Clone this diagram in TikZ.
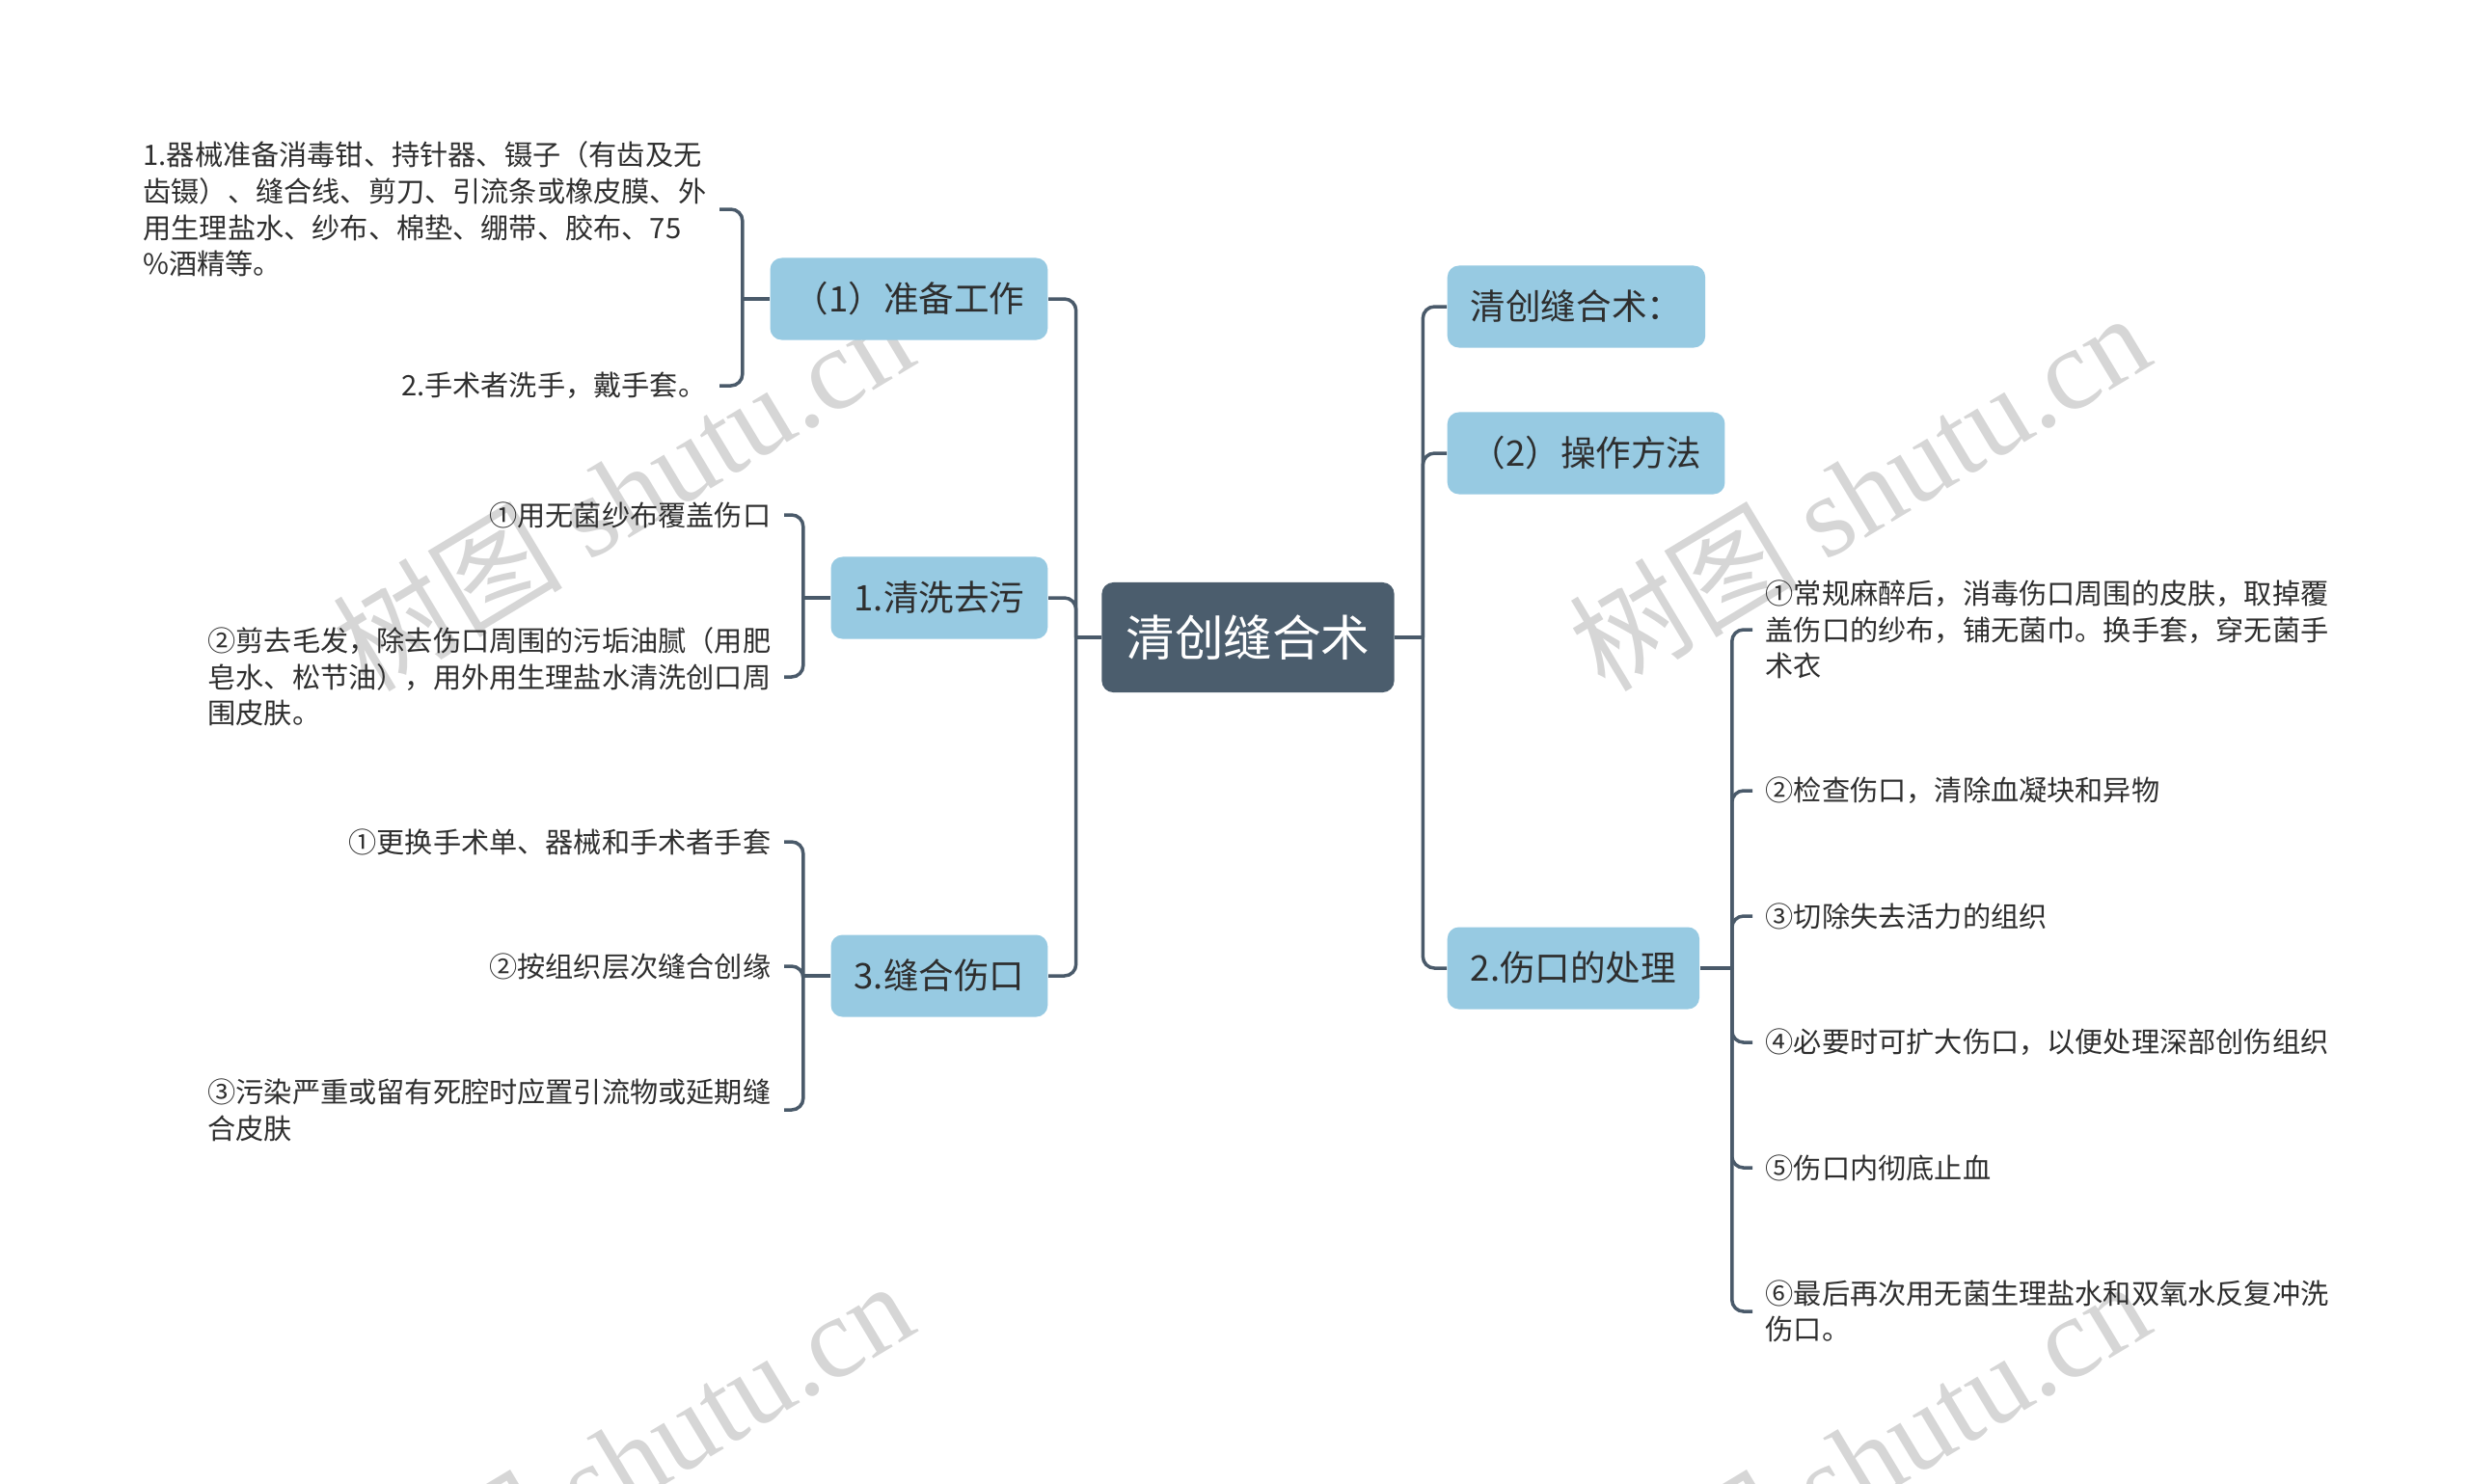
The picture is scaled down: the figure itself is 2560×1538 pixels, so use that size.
\documentclass[tikz,border=0pt]{standalone}
\usepackage{fontspec}
\setmainfont{Noto Sans CJK SC}
\newfontfamily\wmfont{Liberation Serif}
\newfontfamily\wmcjk{Noto Sans CJK SC}
\usetikzlibrary{positioning}
\definecolor{linkcol}{HTML}{4A5A6A}
\definecolor{rootcol}{HTML}{4B5D6D}
\definecolor{topiccol}{HTML}{97CAE2}
\definecolor{textcol}{HTML}{2E2E2E}
\definecolor{wmcol}{HTML}{D6D6D6}

\begin{document}
\begin{tikzpicture}[x=0.01cm,y=-0.01cm,
  root/.style={fill=rootcol,text=white,rounded corners=0.12cm,font=\fontsize{14.4}{17}\selectfont,inner xsep=0.25cm,minimum height=1.14cm},
  topic/.style={fill=topiccol,text=textcol,rounded corners=0.12cm,font=\fontsize{10.4}{13}\selectfont,inner xsep=0.24cm,minimum height=0.85cm},
  leaf/.style={text=textcol,align=left,font=\fontsize{8.3}{10.7}\selectfont,inner sep=0.13cm},
  link/.style={draw=linkcol,line width=0.035cm,rounded corners=0.12cm},
  wmark/.style={text=wmcol,rotate=31,font=\fontsize{34}{34}\selectfont}]
\useasboundingbox (0,0) rectangle (2560,1538);
\begin{scope}
\clip (0,0) rectangle (2560,1538);
\node[wmark] (wm1) at (645,509) {\wmcjk 树图 \wmfont shutu.cn};
\node[wmark] (wm2) at (1927,509) {\wmcjk 树图 \wmfont shutu.cn};
\node[wmark] (wm3) at (645,1513) {\wmcjk 树图 \wmfont shutu.cn};
\node[wmark] (wm4) at (1927,1513) {\wmcjk 树图 \wmfont shutu.cn};
\end{scope}

\node[root] (root) at (1294,661) {清创缝合术};
\node[topic,anchor=east] (prep) at (1087,310) {（1）准备工作};
\node[topic,anchor=east] (wash) at (1087,620) {1.清洗去污};
\node[topic,anchor=east] (suture) at (1087,1012) {3.缝合伤口};
\node[topic,anchor=west] (defn) at (1500,318) {清创缝合术：};
\node[topic,anchor=west] (method) at (1500,470) {（2）操作方法};
\node[topic,anchor=west] (treat) at (1500,1004) {2.伤口的处理};

\node[leaf,anchor=east] (prep1) at (746,217) {1.器械准备消毒钳、持针器、镊子（有齿及无\\齿镊）、缝合线、剪刀、引流条或橡皮膜、外\\用生理盐水、纱布、棉垫、绷带、胶布、75\\\%酒精等。};
\node[leaf,anchor=east] (prep2) at (746,400) {2.手术者洗手，戴手套。};
\node[leaf,anchor=east] (wash1) at (813,534) {①用无菌纱布覆盖伤口};
\node[leaf,anchor=east] (wash2) at (813,702) {②剪去毛发，除去伤口周围的污垢油腻（用肥\\皂水、松节油），用外用生理盐水清洗创口周\\围皮肤。};
\node[leaf,anchor=east] (sut1) at (813,873) {①更换手术单、器械和手术者手套};
\node[leaf,anchor=east] (sut2) at (813,1002) {②按组织层次缝合创缘};
\node[leaf,anchor=east] (sut3) at (813,1151) {③污染严重或留有死腔时应置引流物或延期缝\\合皮肤};
\node[leaf,anchor=west] (treat1) at (1817,653) {①常规麻醉后，消毒伤口周围的皮肤，取掉覆\\盖伤口的纱布，铺无菌巾。换手套，穿无菌手\\术衣};
\node[leaf,anchor=west] (treat2) at (1817,820) {②检查伤口，清除血凝块和异物};
\node[leaf,anchor=west] (treat3) at (1817,950) {③切除失去活力的组织};
\node[leaf,anchor=west] (treat4) at (1817,1081) {④必要时可扩大伤口，以便处理深部创伤组织};
\node[leaf,anchor=west] (treat5) at (1817,1211) {⑤伤口内彻底止血};
\node[leaf,anchor=west] (treat6) at (1817,1360) {⑥最后再次用无菌生理盐水和双氧水反复冲洗\\伤口。};

\draw[link] (root.west) -- ++(-26,0) coordinate (lroot);
\draw[link] (root.east) -- ++(29,0) coordinate (rroot);
\foreach \n in {prep,wash,suture} \draw[link] (lroot) |- (\n.east);
\foreach \n in {defn,method,treat} \draw[link] (rroot) |- (\n.west);

\draw[link] (prep.west) -- ++(-28,0) coordinate (lprep);
\foreach \n in {prep1,prep2} \draw[link] (lprep) |- (\n.east);
\draw[link] (wash.west) -- ++(-28,0) coordinate (lwash);
\foreach \n in {wash1,wash2} \draw[link] (lwash) |- (\n.east);
\draw[link] (suture.west) -- ++(-28,0) coordinate (lsut);
\foreach \n in {sut1,sut2,sut3} \draw[link] (lsut) |- (\n.east);
\draw[link] (treat.east) -- ++(33,0) coordinate (rtreat);
\foreach \n in {treat1,treat2,treat3,treat4,treat5,treat6} \draw[link] (rtreat) |- (\n.west);
\end{tikzpicture}
\end{document}
